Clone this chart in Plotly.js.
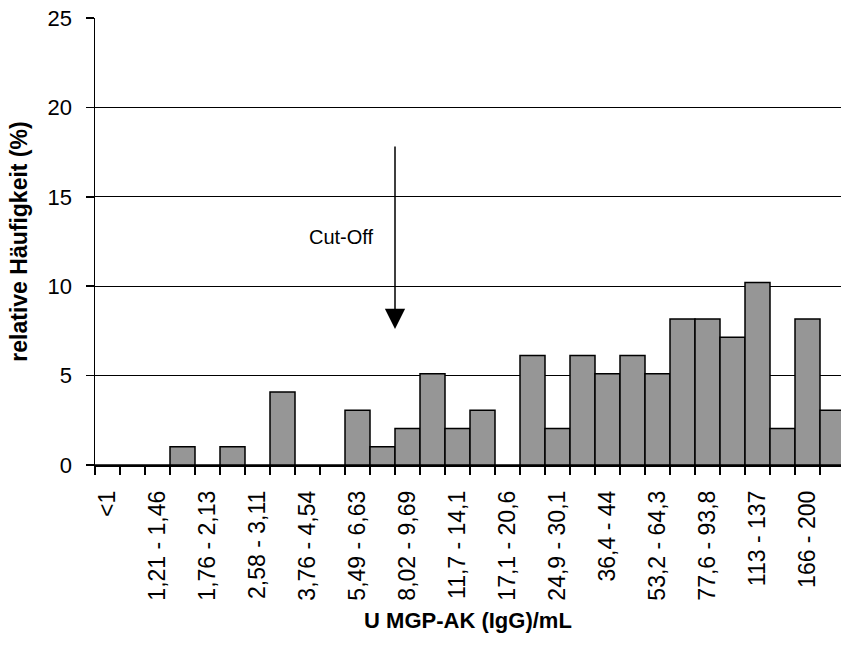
<!DOCTYPE html>
<html>
<head>
<meta charset="utf-8">
<script src="https://cdn.plot.ly/plotly-3.0.1.min.js"></script>
<style>
  html, body { margin: 0; padding: 0; background: #ffffff; }
  #chart { width: 841px; height: 645px; }
</style>
</head>
<body>
<div id="chart"></div>
<script>
// Concentration classes (log-spaced bins)
const bins = [
  "<1", "1 - 1,21", "1,21 - 1,46", "1,46 - 1,76", "1,76 - 2,13", "2,13 - 2,58",
  "2,58 - 3,11", "3,11 - 3,76", "3,76 - 4,54", "4,54 - 5,49", "5,49 - 6,63",
  "6,63 - 8,02", "8,02 - 9,69", "9,69 - 11,7", "11,7 - 14,1", "14,1 - 17,1",
  "17,1 - 20,6", "20,6 - 24,9", "24,9 - 30,1", "30,1 - 36,4", "36,4 - 44",
  "44 - 53,2", "53,2 - 64,3", "64,3 - 77,6", "77,6 - 93,8", "93,8 - 113",
  "113 - 137", "137 - 166", "166 - 200", ">200"
];

// Relative frequency per class (%)
const relFreq = [
  0, 0, 0, 1.02, 0, 1.02, 0, 4.08, 0, 0, 3.06, 1.02, 2.04, 5.1, 2.04, 3.06,
  0, 6.12, 2.04, 6.12, 5.1, 6.12, 5.1, 8.16, 8.16, 7.14, 10.2, 2.04, 8.16, 3.06
];

// Only every second class is labelled on the axis
const tickLabels = bins.map((b, i) => (i % 2 === 0 ? b : ""));

const cutOffPos = 11.5;   // boundary between 6,63 - 8,02 and 8,02 - 9,69

const font = "Arial, 'Liberation Sans', sans-serif";

const trace = {
  type: "bar",
  x: bins,
  y: relFreq,
  width: 1,
  marker: { color: "#969696", line: { color: "#000000", width: 1.5 } },
  hoverinfo: "x+y"
};

const layout = {
  width: 841,
  height: 645,
  margin: { l: 95, r: 0, t: 18, b: 180 },
  paper_bgcolor: "#ffffff",
  plot_bgcolor: "#ffffff",
  showlegend: false,
  bargap: 0,
  font: { family: font, color: "#000000" },
  xaxis: {
    type: "category",
    range: [-0.5, 29.34],
    tickmode: "array",
    tickvals: bins,
    ticktext: tickLabels,
    tickson: "boundaries",
    ticks: "outside",
    ticklen: 8,
    tickwidth: 1.5,
    tickcolor: "#000000",
    tickangle: -90,
    ticklabelstandoff: 15,
    tickfont: { size: 23, family: font, color: "#000000" },
    showgrid: false,
    showline: true,
    linecolor: "#000000",
    linewidth: 1.5,
    zeroline: false,
    title: { text: "<b>U MGP-AK (IgG)/mL</b>", font: { size: 22, family: font, color: "#000000" }, standoff: 13 }
  },
  yaxis: {
    range: [0, 25],
    dtick: 5,
    tick0: 0,
    ticks: "outside",
    ticklen: 8,
    tickwidth: 1.5,
    tickcolor: "#000000",
    ticklabelstandoff: 9,
    tickfont: { size: 22, family: font, color: "#000000" },
    showgrid: true,
    gridcolor: "#000000",
    gridwidth: 1,
    showline: true,
    linecolor: "#000000",
    linewidth: 1.5,
    zeroline: false,
    title: { text: "<b>relative Häufigkeit (%)</b>", font: { size: 23, family: font, color: "#000000" }, standoff: 13 }
  },
  annotations: [
    {
      x: cutOffPos, y: 7.6, xref: "x", yref: "y",
      ax: 0, ay: -184, axref: "pixel", ayref: "pixel",
      text: "",
      showarrow: true,
      arrowhead: 2,
      arrowsize: 2.7,
      arrowwidth: 1.5,
      arrowcolor: "#000000"
    },
    {
      x: 9.34, y: 12.75, xref: "x", yref: "y",
      text: "Cut-Off",
      showarrow: false,
      font: { size: 20, family: font, color: "#000000" }
    }
  ]
};

Plotly.newPlot("chart", [trace], layout, { displayModeBar: false, staticPlot: true });
</script>
</body>
</html>
